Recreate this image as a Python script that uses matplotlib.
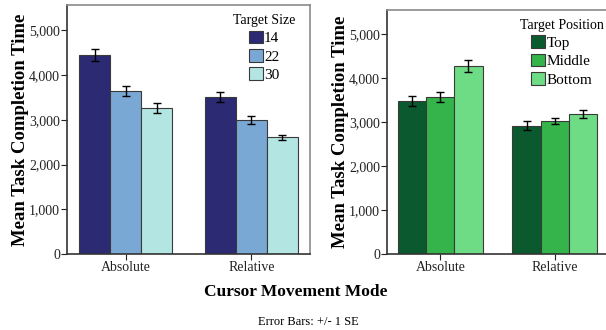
import numpy as np
import matplotlib
matplotlib.use("Agg")
import matplotlib.pyplot as plt

plt.rcParams['font.family'] = ['Liberation Serif', 'DejaVu Serif']

modes = ["Absolute", "Relative"]

size_labels = ["14", "22", "30"]
size_means = [[4450, 3512], [3650, 3000], [3260, 2610]]
size_se = [[140, 104], [115, 82], [112, 60]]
size_colors = ["#2b2a73", "#79a8d5", "#b3e5e3"]

pos_labels = ["Top", "Middle", "Bottom"]
pos_means = [[3492, 2923], [3583, 3022], [4290, 3182]]
pos_se = [[110, 99], [118, 68], [137, 95]]
pos_colors = ["#0b5a2f", "#34b44a", "#6edc84"]

yticks = [0, 1000, 2000, 3000, 4000, 5000]
ytick_labels = ["0", "1,000", "2,000", "3,000", "4,000", "5,000"]

fig = plt.figure(figsize=(6.06, 3.30), dpi=100)
ax1 = fig.add_axes([67 / 606, 1 - 254 / 330, 243 / 606, 249 / 330])
ax2 = fig.add_axes([387 / 606, 1 - 254 / 330, 221 / 606, 244 / 330])

width = 0.246
x = np.arange(len(modes))


def draw_panel(ax, labels, means, ses, colors, title, ymax, legend_anchor):
    for i, (lab, m, s, c) in enumerate(zip(labels, means, ses, colors)):
        ax.bar(x + (i - 1) * width, m, width, color=c, edgecolor="#3a3a3a",
               linewidth=0.8, label=lab, zorder=2)
        ax.errorbar(x + (i - 1) * width, m, yerr=s, fmt="none", ecolor="black",
                    elinewidth=1.0, capsize=3, capthick=1.0, zorder=3)
    ax.set_xlim(-0.466, 1.466)
    ax.set_ylim(0, ymax)
    ax.set_xticks(x)
    ax.set_xticklabels(modes, fontsize=10)
    ax.set_yticks(yticks)
    ax.set_yticklabels(ytick_labels, fontsize=10)
    ax.tick_params(axis="both", direction="out", length=4, width=0.8,
                   colors="#222222", pad=1)
    for sp in ax.spines.values():
        sp.set_color("#8a8a8a")
        sp.set_linewidth(1.2)
    ax.spines["left"].set_color("#333333")
    ax.spines["bottom"].set_color("#333333")
    ax.set_ylabel("Mean Task Completion Time", fontsize=13.5,
                  fontweight="bold", labelpad=0)
    leg = ax.legend(title=title, loc="upper left", bbox_to_anchor=legend_anchor,
                    frameon=False, fontsize=11, title_fontsize=10,
                    handlelength=0.9, handleheight=0.9, handletextpad=0.1,
                    labelspacing=0.25, borderpad=0, borderaxespad=0)
    for h in leg.legend_handles:
        h.set_edgecolor("#3a3a3a")
        h.set_linewidth(0.8)


draw_panel(ax1, size_labels, size_means, size_se, size_colors,
           "Target Size", 5570, (0.683, 0.965))
draw_panel(ax2, pos_labels, pos_means, pos_se, pos_colors,
           "Target Position", 5558, (0.601, 0.965))

fig.text(296 / 606, 1 - 292 / 330, "Cursor Movement Mode", ha="center",
         va="center", fontsize=12.5, fontweight="bold")
fig.text(308 / 606, 1 - 322 / 330, "Error Bars: +/- 1 SE", ha="center",
         va="center", fontsize=9)

fig.savefig("out.png", dpi=100)
